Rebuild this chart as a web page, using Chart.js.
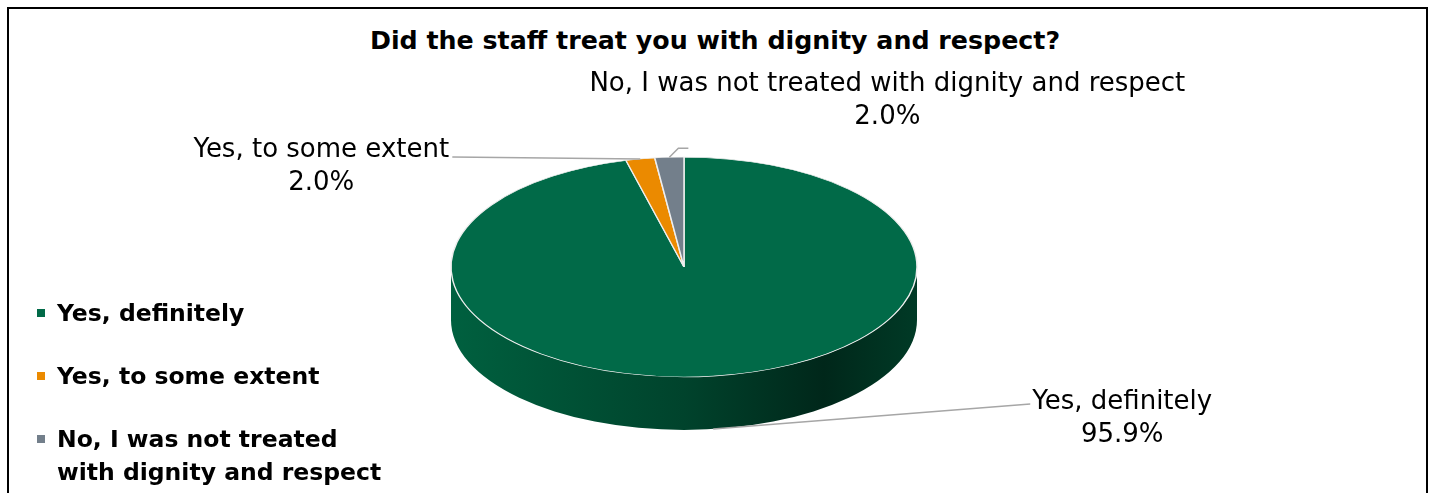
<!DOCTYPE html>
<html>
<head>
<meta charset="utf-8">
<title>Dignity and respect</title>
<script src="https://cdn.jsdelivr.net/npm/chart.js@4.4.1/dist/chart.umd.min.js"></script>
<style>
  html, body { margin: 0; padding: 0; background: #fff; overflow: hidden; }
  #page { position: relative; width: 1435px; height: 493px; }
  #frame { position: absolute; left: 7px; top: 7px; width: 1417px; height: 520px;
           border: 2px solid #000; border-bottom: none; }
  #title { position: absolute; left: 0; top: 26px; width: 1430px; text-align: center;
           font: bold 25.3px 'DejaVu Sans'; line-height: 30px; color: #000; }
  #chart { position: absolute; left: 0; top: 0; }
  #legend { position: absolute; left: 37px; top: 297px; margin: 0; padding: 0; list-style: none;
            font: bold 23.5px 'DejaVu Sans'; line-height: 33px; color: #000; }
  #legend li { position: relative; padding-left: 20px; margin-bottom: 30px; max-width: 340px; }
  #legend li span { position: absolute; left: 0; top: 12px; width: 8px; height: 8px; }
</style>
</head>
<body>
<div id="page">
  <div id="frame"></div>
  <div id="title">Did the staff treat you with dignity and respect?</div>
  <canvas id="chart" width="1435" height="493"></canvas>
  <ul id="legend"></ul>
</div>
<script>
// answers, share of respondents (%)
const answers = ['Yes, definitely', 'Yes, to some extent', 'No, I was not treated with dignity and respect'];
const legendText = ['Yes, definitely', 'Yes, to some extent', 'No, I was not treated with dignity and respect'];
const shares = [95.9, 2.0, 2.0];
const sliceColors = ['#016a48', '#eb8a00', '#737f8b'];

// 3d look
const tilt = 0.472;
const depth = 53;

// where each data label sits, relative to its slice anchor
const labelSpots = [
  { line: [[317, -25]], text: [409, -27] },
  { line: [[-188, -2]], text: [-319, -9] },
  { line: [[9, -9], [19, -9]], text: [218, -73] }
];

// html legend, so the long answer can wrap
const legendEl = document.getElementById('legend');
legendText.forEach((txt, i) => {
  const li = document.createElement('li');
  const sw = document.createElement('span');
  sw.style.background = sliceColors[i];
  li.appendChild(sw);
  li.appendChild(document.createTextNode(txt));
  legendEl.appendChild(li);
});

function midAngle(arc) {
  return (arc.startAngle + arc.endAngle) / 2;
}

// squash the pie into an ellipse and draw the front wall under it
const tiltPlugin = {
  id: 'tilt',
  beforeDatasetDraw(chart, args) {
    const ctx = chart.ctx;
    const arcs = args.meta.data;
    const first = arcs[0];
    const cx = first.x, cy = first.y, r = first.outerRadius, ry = r * tilt;

    const grad = ctx.createLinearGradient(cx - r, 0, cx + r, 0);
    grad.addColorStop(0, '#00603f');
    grad.addColorStop(0.5, '#00432c');
    grad.addColorStop(0.8, '#00271a');
    grad.addColorStop(1, '#003a26');

    arcs.forEach((arc, i) => {
      // only the part facing the viewer (0..PI on screen) shows a wall
      let a0 = arc.startAngle, a1 = arc.endAngle;
      const ranges = [];
      for (let k = -1; k <= 1; k++) {
        const lo = Math.max(a0, k * 2 * Math.PI), hi = Math.min(a1, k * 2 * Math.PI + Math.PI);
        if (hi > lo) ranges.push([lo, hi]);
      }
      ranges.forEach(([lo, hi]) => {
        ctx.save();
        ctx.beginPath();
        ctx.ellipse(cx, cy, r, ry, 0, lo, hi);
        ctx.ellipse(cx, cy + depth, r, ry, 0, hi, lo, true);
        ctx.closePath();
        ctx.fillStyle = i === 0 ? grad : sliceColors[i];
        ctx.fill();
        ctx.restore();
      });
    });

    ctx.save();
    ctx.translate(cx, cy);
    ctx.scale(1, tilt);
    ctx.translate(-cx, -cy);
  },
  afterDatasetDraw(chart) {
    chart.ctx.restore();
  }
};

// labels with leader lines
const labelPlugin = {
  id: 'sliceLabels',
  afterDraw(chart) {
    const ctx = chart.ctx;
    const arcs = chart.getDatasetMeta(0).data;
    ctx.save();
    arcs.forEach((arc, i) => {
      const a = midAngle(arc);
      const r = arc.outerRadius;
      const ax = arc.x + r * Math.cos(a);
      let ay = arc.y + r * tilt * Math.sin(a);
      if (Math.sin(a) > 0) ay += depth;
      const spot = labelSpots[i];

      ctx.beginPath();
      ctx.moveTo(ax, ay);
      spot.line.forEach(([dx, dy]) => ctx.lineTo(ax + dx, ay + dy));
      ctx.strokeStyle = '#a6a6a6';
      ctx.lineWidth = 1.5;
      ctx.stroke();

      ctx.fillStyle = '#000';
      ctx.font = '26px "DejaVu Sans"';
      ctx.textAlign = 'center';
      ctx.textBaseline = 'middle';
      const tx = ax + spot.text[0], ty = ay + spot.text[1];
      ctx.fillText(answers[i], tx, ty);
      ctx.fillText(shares[i].toFixed(1) + '%', tx, ty + 33);
    });
    ctx.restore();
  }
};

new Chart(document.getElementById('chart'), {
  type: 'pie',
  data: {
    labels: answers,
    datasets: [{
      data: shares,
      backgroundColor: sliceColors,
      borderColor: '#eeeeee',
      borderWidth: 1.5,
      radius: 233,
      clip: false
    }]
  },
  options: {
    responsive: false,
    animation: false,
    layout: { padding: { left: 0, right: 67, top: 41, bottom: 0 } },
    plugins: {
      legend: { display: false },
      title: { display: false },
      tooltip: { enabled: false }
    }
  },
  plugins: [tiltPlugin, labelPlugin]
});
</script>
</body>
</html>
